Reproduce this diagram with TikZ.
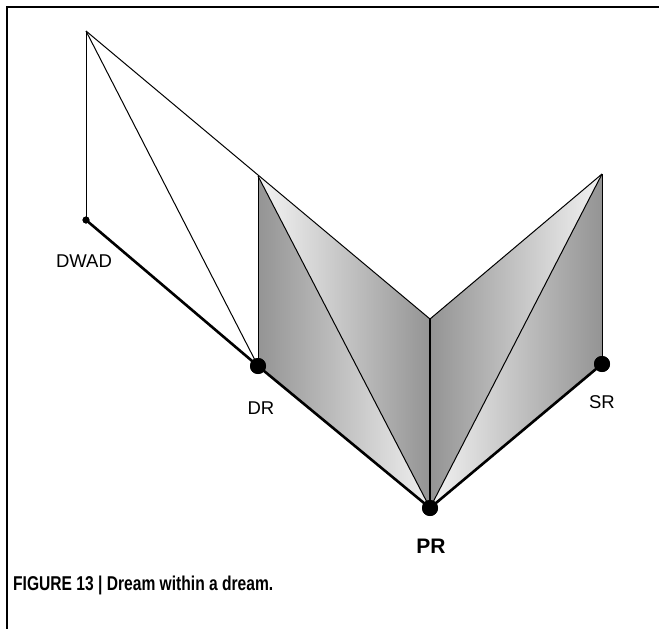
\documentclass[tikz,border=0pt]{standalone}
\usepackage{fontspec}
\setmainfont{Liberation Sans}
\begin{document}
\begin{tikzpicture}[x=1pt,y=-1pt,
  thinline/.style={line width=1pt,black},
  thickline/.style={line width=2.6pt,black},
  midline/.style={line width=2pt,black},
  bigdot/.style={circle,fill=black,inner sep=0pt,minimum size=16pt},
  smalldot/.style={circle,fill=black,inner sep=0pt,minimum size=7pt},
  lbl/.style={font=\fontsize{18.5}{21}\selectfont,inner sep=0pt},
]
\useasboundingbox (0,0) rectangle (659,629);
% frame
\draw[line width=1.6pt] (7,629) -- (7,7) -- (659,7);
% coordinates
\coordinate (apex) at (86,31);
\coordinate (ltop) at (258,176);
\coordinate (mtop) at (430,319);
\coordinate (rtop) at (602,174);
% shaded triangles
\shade[left color=black!42,right color=black!6] (ltop) -- (258,366) -- (430,508) -- cycle;
\shade[left color=black!4,right color=black!42] (ltop) -- (mtop) -- (430,508) -- cycle;
\shade[left color=black!42,right color=black!5] (mtop) -- (rtop) -- (430,508) -- cycle;
\shade[left color=black!5,right color=black!42] (rtop) -- (602,364) -- (430,508) -- cycle;
% nodes
\node[smalldot] (dwad) at (86,220) {};
\node[bigdot] (dr) at (258,366) {};
\node[bigdot] (pr) at (430,508) {};
\node[bigdot] (sr) at (602,364) {};
% thin lines
\draw[thinline] (apex) -- (dwad.center);
\draw[thinline] (apex) -- (dr.center);
\draw[thinline] (apex) -- (mtop);
\draw[thinline] (ltop) -- (dr.center);
\draw[thinline] (ltop) -- (pr.center);
\draw[thinline] (mtop) -- (rtop);
\draw[thinline] (rtop) -- (sr.center);
\draw[thinline] (rtop) -- (pr.center);
\draw[midline] (mtop) -- (pr.center);
% thick base
\draw[thickline,line join=round] (dwad.center) -- (dr.center) -- (pr.center) -- (sr.center);
% redraw dots on top
\node[smalldot] at (dwad) {};
\node[bigdot] at (dr) {};
\node[bigdot] at (pr) {};
\node[bigdot] at (sr) {};
% labels
\node[lbl] (ldwad) at (84,261) {DWAD};
\node[lbl] (ldr) at (261,408) {DR};
\node[lbl,font=\fontsize{21}{24}\selectfont\bfseries] (lpr) at (431,546) {PR};
\node[lbl] (lsr) at (602,402) {SR};
% caption
\node[anchor=west,inner sep=0pt] (cap) at (13,585) {\scalebox{0.78}[1]{\fontsize{20}{23}\selectfont\bfseries FIGURE 13 | Dream within a dream.}};
\end{tikzpicture}
\end{document}
